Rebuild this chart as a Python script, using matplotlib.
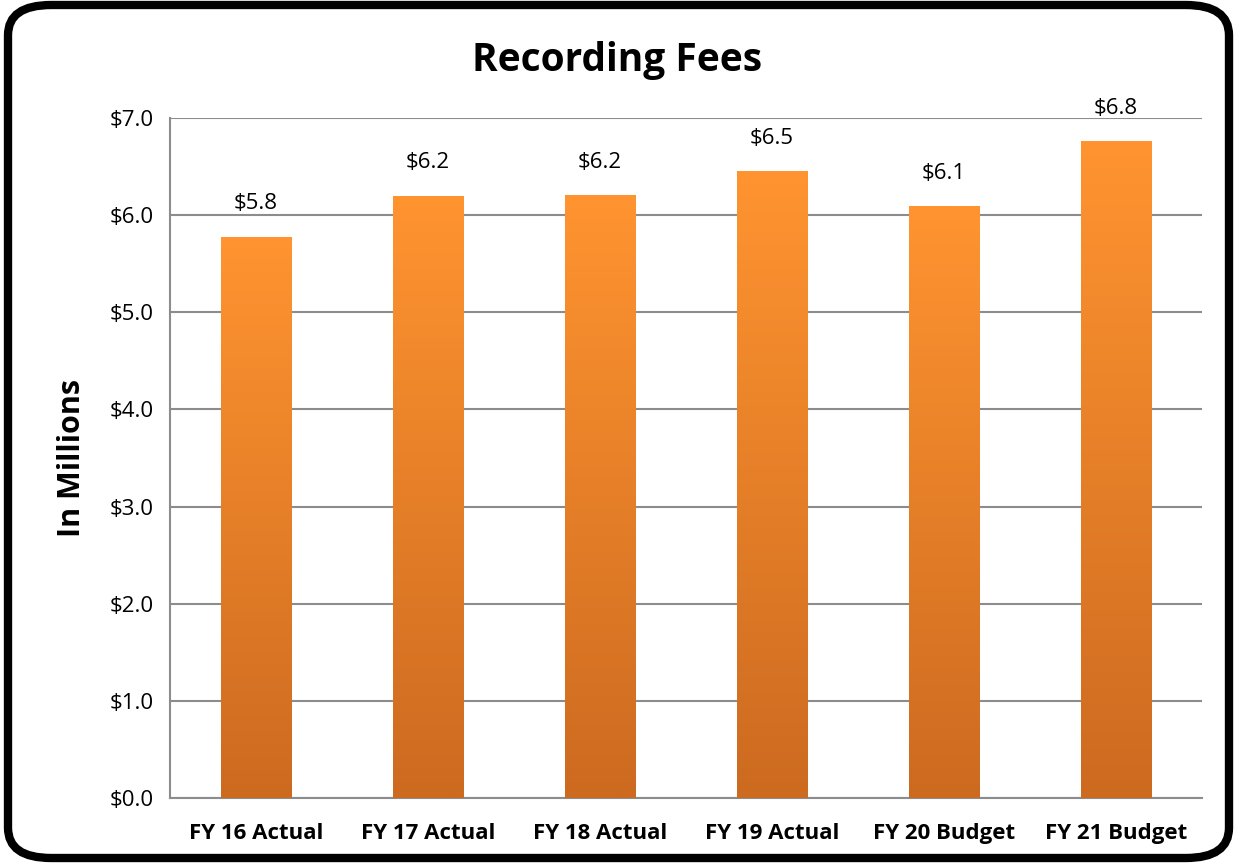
import numpy as np
import matplotlib.pyplot as plt
from matplotlib.patches import FancyBboxPatch
from matplotlib.colors import LinearSegmentedColormap

plt.rcParams['font.family'] = ['Open Sans', 'DejaVu Sans']

categories = ['FY 16 Actual', 'FY 17 Actual', 'FY 18 Actual', 'FY 19 Actual', 'FY 20 Budget', 'FY 21 Budget']
values = [5.78, 6.20, 6.21, 6.45, 6.09, 6.76]
labels = ['$5.8', '$6.2', '$6.2', '$6.5', '$6.1', '$6.8']
yticks = [0, 1, 2, 3, 4, 5, 6, 7]

fig = plt.figure(figsize=(12.35, 8.64), dpi=100)
ax = fig.add_axes([170/1235, 1 - 798/864, (1202-170)/1235, (798-118)/864])

# rounded black frame
frame = FancyBboxPatch((8/1235, 6/864), 1221/1235, 853/864,
                       boxstyle="round,pad=0,rounding_size=0.035",
                       transform=fig.transFigure, fill=False, lw=6, ec='black')
fig.patches.append(frame)

cmap = LinearSegmentedColormap.from_list('orng', ['#cc6a20', '#ff9430'])
grad = np.linspace(0, 1, 256).reshape(-1, 1)

x = np.arange(len(categories))
bars = ax.bar(x, values, width=0.41, color='#f08028', zorder=3)
for b in bars:
    im = ax.imshow(grad, cmap=cmap, origin='lower', aspect='auto',
                   extent=[b.get_x(), b.get_x() + b.get_width(), 0, b.get_height()], zorder=3)
    im.set_clip_path(b)
    b.set_alpha(0)

for xi, v, lab in zip(x, values, labels):
    ax.annotate(lab, (xi, v), xytext=(0, 16), textcoords='offset points',
                ha='center', va='bottom', fontsize=16)

ax.set_xlim(-0.5, len(categories) - 0.5)
ax.set_ylim(0, 7)
ax.set_yticks(yticks)
ax.set_yticklabels(['$%.1f' % t for t in yticks], fontsize=16)
ax.set_xticks(x)
ax.set_xticklabels(categories, fontsize=16, fontweight='bold')
ax.tick_params(axis='y', length=0, pad=12)
ax.tick_params(axis='x', length=0, pad=18)
ax.grid(axis='y', color='#8c8c8c', lw=1.5, zorder=1)
for s in ['top', 'right']:
    ax.spines[s].set_visible(False)
ax.spines['left'].set_color('#8c8c8c')
ax.spines['bottom'].set_color('#8c8c8c')
ax.spines['left'].set_linewidth(1.5)
ax.spines['bottom'].set_linewidth(1.5)
ax.set_ylabel('In Millions', fontsize=22, fontweight='bold', labelpad=16)
fig.text(0.5, 1 - 60/864, 'Recording Fees', ha='center', va='center', fontsize=28, fontweight='bold')

fig.savefig('out.png', dpi=100)
